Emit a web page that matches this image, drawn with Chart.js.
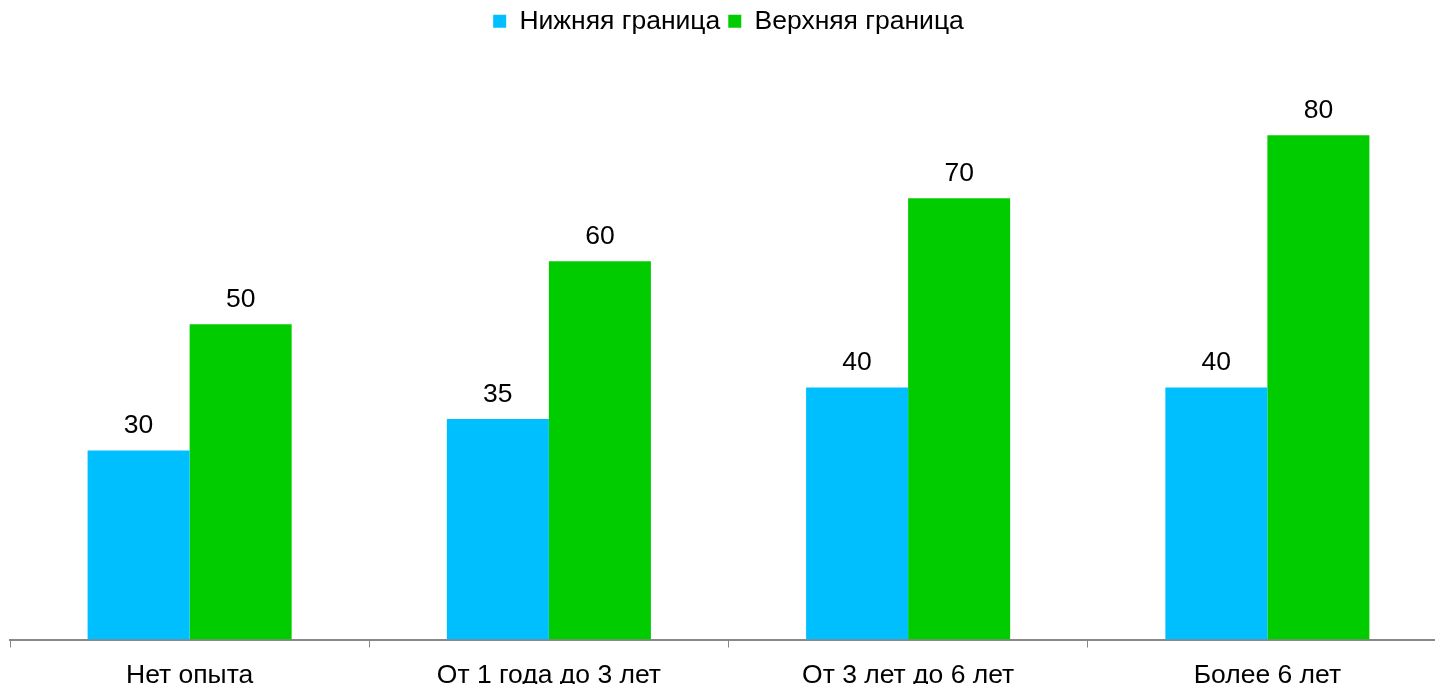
<!DOCTYPE html>
<html>
<head>
<meta charset="utf-8">
<script src="https://cdn.jsdelivr.net/npm/chart.js@4.4.1/dist/chart.umd.min.js"></script>
<style>
	html, body { margin: 0; padding: 0; background: #fff; overflow: hidden; }
	#wrap { width: 1447px; height: 684px; position: relative; }
</style>
</head>
<body>
<div id="wrap"><canvas id="chart"></canvas></div>
<script>
const categories = ['Нет опыта', 'От 1 года до 3 лет', 'От 3 лет до 6 лет', 'Более 6 лет'];
const lowerBound = [30, 35, 40, 40];
const upperBound = [50, 60, 70, 80];

const FONT = '"Liberation Sans", Arial, sans-serif';

// подписи значений над столбцами
const valueLabels = {
	id: 'valueLabels',
	afterDatasetsDraw(chart) {
		const ctx = chart.ctx;
		ctx.save();
		ctx.font = '26.5px ' + FONT;
		ctx.fillStyle = '#000';
		ctx.textAlign = 'center';
		ctx.textBaseline = 'alphabetic';
		chart.data.datasets.forEach((ds, i) => {
			chart.getDatasetMeta(i).data.forEach((bar, j) => {
				ctx.fillText(ds.data[j], bar.x, bar.y - 17);
			});
		});
		ctx.restore();
	}
};

const canvas = document.getElementById('chart');
const graph = new Chart(canvas, {
	type: 'bar',
	data: {
		labels: categories,
		datasets: [
			{ label: 'Нижняя граница', data: lowerBound, backgroundColor: 'rgb(0,191,255)' },
			{ label: 'Верхняя граница', data: upperBound, backgroundColor: 'rgb(0,204,0)' }
		]
	},
	options: {
		responsive: true,
		maintainAspectRatio: false,
		animation: false,
		layout: { padding: { left: 10, right: 0, top: 0, bottom: 0 } },
		datasets: { bar: { categoryPercentage: 0.568, barPercentage: 1 } },
		plugins: {
			legend: {
				labels: {
					font: { family: FONT, size: 26.5 },
					color: '#000',
					boxWidth: 13,
					boxHeight: 13,
					padding: 8
				}
			},
			tooltip: { enabled: false }
		},
		scales: {
			x: {
				grid: { offset: true, drawOnChartArea: false, drawTicks: true, tickLength: 8, color: '#888' },
				border: { color: '#888', width: 2 },
				ticks: { color: '#000', font: { family: FONT, size: 26.5, lineHeight: 1 }, padding: 14.5 },
				afterFit: (scale) => { scale.height = 44.5; }
			},
			y: {
				display: false,
				min: 0,
				max: 94.4
			}
		}
	},
	plugins: [valueLabels]
});
</script>
</body>
</html>
